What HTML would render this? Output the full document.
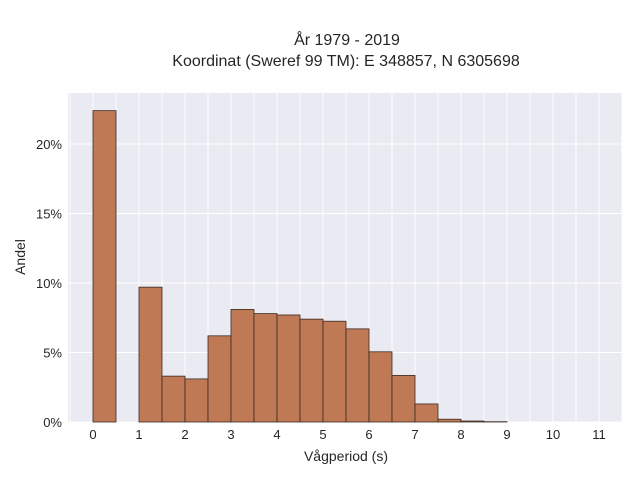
<!DOCTYPE html>
<html><head><meta charset="utf-8">
<style>
body{margin:0;background:#fff;font-family:"Liberation Sans",sans-serif;}
svg text{font-family:"Liberation Sans",sans-serif;fill:#262626;}
</style></head><body>
<svg width="640" height="480" id="c">
<text x="347" y="45" text-anchor="middle" font-size="16">År 1979 - 2019</text>
<text x="346" y="66" text-anchor="middle" font-size="16">Koordinat (Sweref 99 TM): E 348857, N 6305698</text>
<rect x="68" y="93" width="554" height="329" fill="#eaeaf2"/>
<g id="grid"></g><g id="bars"></g><g id="ticks"></g>
<text x="346" y="461" text-anchor="middle" font-size="14">Vågperiod (s)</text>
<text transform="translate(25,257) rotate(-90)" text-anchor="middle" font-size="14">Andel</text>
</svg>
<script>
const binStarts=[0,0.5,1,1.5,2,2.5,3,3.5,4,4.5,5,5.5,6,6.5,7,7.5,8,8.5];
const shares=[22.4,0,9.7,3.3,3.1,6.2,8.1,7.8,7.7,7.4,7.25,6.7,5.05,3.35,1.3,0.2,0.07,0.02];
const xTicks=[0,1,2,3,4,5,6,7,8,9,10,11];
const yTicks=[0,5,10,15,20];
const binWidth=0.5;
const NS="http://www.w3.org/2000/svg";
const X=v=>93+v*46, Y=v=>422-v*13.9;
const grid=document.getElementById('grid'),bars=document.getElementById('bars'),ticks=document.getElementById('ticks');
function mk(tag,attrs,parent){const e=document.createElementNS(NS,tag);for(const k in attrs)e.setAttribute(k,attrs[k]);parent.appendChild(e);return e;}
for(let v=-0.5;v<=11.5;v+=0.5){const l=mk('line',{x1:X(v),x2:X(v),y1:93,y2:422,stroke:'#fff','stroke-width':1},grid);

}
yTicks.forEach(t=>{const l=mk('line',{x1:68,x2:622,y1:Y(t),y2:Y(t),stroke:'#fff','stroke-width':1},grid);


const tx=mk('text',{x:62,y:Y(t)+5,'text-anchor':'end','font-size':13},ticks);tx.textContent=t+'%';

});
xTicks.forEach(t=>{const tx=mk('text',{x:X(t),y:439,'text-anchor':'middle','font-size':13},ticks);tx.textContent=t;

});
binStarts.forEach((b,i)=>{if(shares[i]<=0)return;const r=mk('rect',{x:X(b),y:Y(shares[i]),width:X(b+binWidth)-X(b),height:Y(0)-Y(shares[i]),fill:'#bf7a55',stroke:'#3a2a22','stroke-width':0.8},bars);

});
</script>
</body></html>
